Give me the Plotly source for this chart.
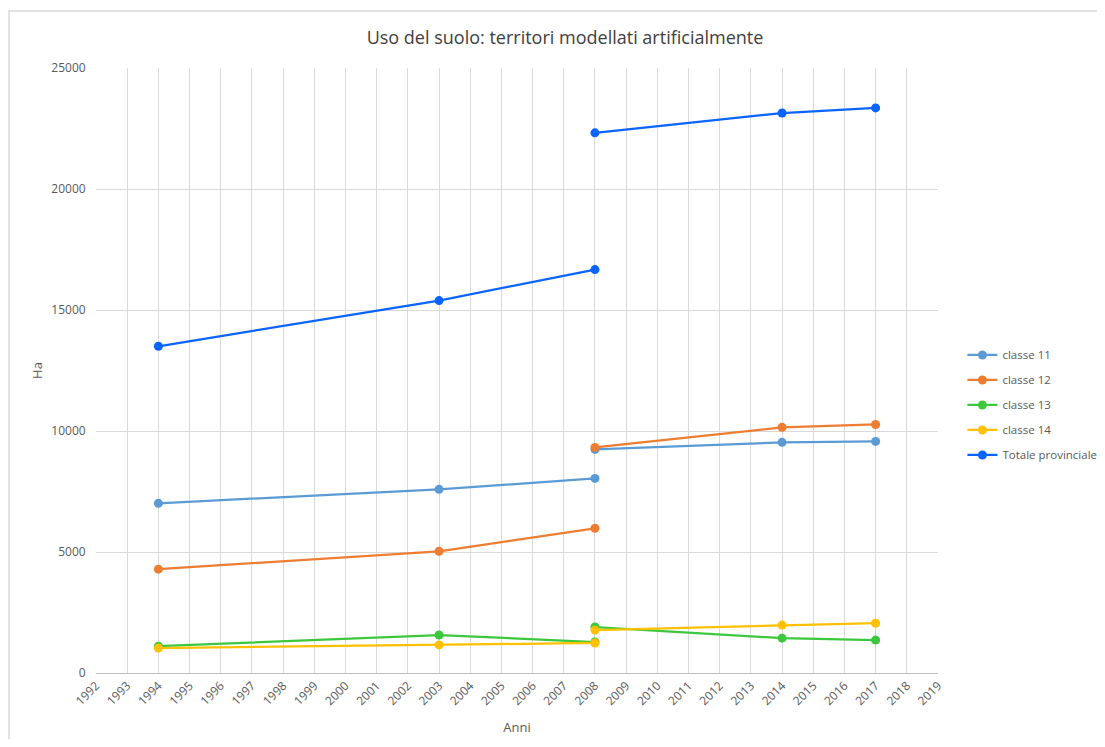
import plotly.graph_objects as go

# Two survey periods (the series break at 2008)
years_a = [1994, 2003, 2008]
years_b = [2008, 2014, 2017]

series_names = ["classe 11", "classe 12", "classe 13", "classe 14", "Totale provinciale"]
classe11_a = [7010, 7590, 8040]
classe11_b = [9240, 9530, 9570]
classe12_a = [4290, 5030, 5980]
classe12_b = [9320, 10150, 10270]
classe13_a = [1110, 1570, 1280]
classe13_b = [1900, 1440, 1360]
classe14_a = [1030, 1160, 1240]
classe14_b = [1770, 1980, 2060]
totale_a = [13500, 15390, 16670]
totale_b = [22320, 23140, 23350]

colors = ["#5B9BD5", "#ED7D31", "#3CC83C", "#FFC000", "#0A64FF"]

data_a = [classe11_a, classe12_a, classe13_a, classe14_a, totale_a]
data_b = [classe11_b, classe12_b, classe13_b, classe14_b, totale_b]

fig = go.Figure()
for name, col, va, vb in zip(series_names, colors, data_a, data_b):
    xs = years_a + [None] + years_b
    ys = va + [None] + vb
    fig.add_trace(go.Scatter(
        x=xs, y=ys, name=name, mode="lines+markers", legendgroup=name,
        line=dict(color=col, width=2.25),
        marker=dict(color=col, size=9),
        connectgaps=False,
    ))

W, H = 1097, 731
L, T, PW, PH = 88, 60, 842, 605
font_family = "Open Sans, Liberation Sans, sans-serif"
fig.update_layout(
    width=W, height=H,
    margin=dict(l=L, r=W - L - PW, t=T, b=H - T - PH, autoexpand=False),
    paper_bgcolor="white", plot_bgcolor="white",
    font=dict(family=font_family, color="#595959", size=12),
    title=dict(text="Uso del suolo: territori modellati artificialmente",
               x=557 / W, xanchor="center", y=1 - 30 / H, yanchor="middle",
               font=dict(size=18, color="#404040")),
    showlegend=True,
    legend=dict(x=1.029, y=0.443, xanchor="left", yanchor="middle",
                tracegroupgap=6,
                font=dict(size=11.5, color="#595959"), bgcolor="rgba(0,0,0,0)"),
    xaxis=dict(range=[1992, 2019], dtick=1, tick0=1992, tickangle=-45,
               tickformat="d", showgrid=True, gridcolor="#D9D9D9", gridwidth=1,
               showline=True, linecolor="#BFBFBF", linewidth=1, zeroline=False,
               automargin=False,
               ticks="", tickfont=dict(size=12, color="#595959"),
               title=dict(text="Anni", font=dict(size=13, color="#595959"), standoff=15)),
    yaxis=dict(range=[0, 25000], dtick=5000, tickformat="d", showgrid=True,
               gridcolor="#D9D9D9", gridwidth=1, showline=False, zeroline=False,
               automargin=False,
               ticks="", tickfont=dict(size=12, color="#595959"), ticksuffix="   ",
               title=dict(text="Ha", font=dict(size=13, color="#595959"), standoff=5)),
)

# outer chart border (left and top edges visible)
fig.add_shape(type="rect", xref="paper", yref="paper",
              x0=-(L - 1) / PW, x1=(W + 20 - L) / PW,
              y0=-(H - T - PH + 20) / PH, y1=1 + (T - 3) / PH,
              line=dict(color="#D9D9D9", width=1.5), fillcolor="rgba(0,0,0,0)", layer="below")

fig.write_html("out.html")
